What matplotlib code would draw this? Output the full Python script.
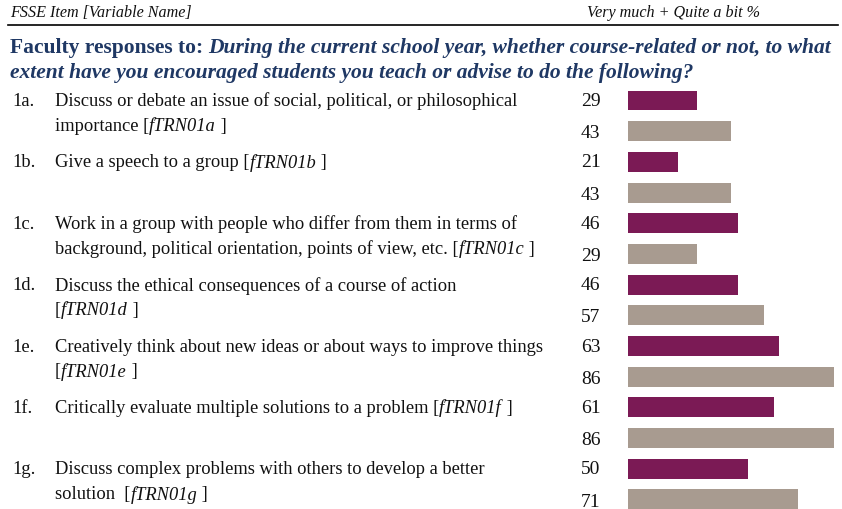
import matplotlib
matplotlib.use("Agg")
import matplotlib.pyplot as plt
from matplotlib.transforms import blended_transform_factory, offset_copy

plt.rcParams['font.family'] = ['Liberation Serif', 'DejaVu Serif']

item_codes = ["1a.", "1b.", "1c.", "1d.", "1e.", "1f.", "1g."]
# each line: list of (text, italic)
item_lines = [
    [[("Discuss or debate an issue of social, political, or philosophical", False)],
     [("importance [", False), ("fTRN01a", True), (" ]", False)]],
    [[("Give a speech to a group [", False), ("fTRN01b", True), (" ]", False)]],
    [[("Work in a group with people who differ from them in terms of", False)],
     [("background, political orientation, points of view, etc. [", False), ("fTRN01c", True), (" ]", False)]],
    [[("Discuss the ethical consequences of a course of action", False)],
     [("[", False), ("fTRN01d", True), (" ]", False)]],
    [[("Creatively think about new ideas or about ways to improve things", False)],
     [("[", False), ("fTRN01e", True), (" ]", False)]],
    [[("Critically evaluate multiple solutions to a problem [", False), ("fTRN01f", True), (" ]", False)]],
    [[("Discuss complex problems with others to develop a better", False)],
     [("solution  [", False), ("fTRN01g", True), (" ]", False)]],
]
series1 = [29, 21, 46, 46, 63, 61, 50]
series2 = [43, 43, 29, 57, 86, 86, 71]

c1 = "#7B1A55"
c2 = "#A89B90"
navy = "#1F3864"
txtc = "#111111"

W, H = 842, 510
fig = plt.figure(figsize=(W/100, H/100), dpi=100)
renderer = fig.canvas.get_renderer()

row_px = 30.69
top_px = 101.5 - row_px/2
n_rows = 14
bot_px = top_px + n_rows*row_px
left_px = 628
width_px = 239
ax = fig.add_axes([left_px/W, (H-bot_px)/H, width_px/W, (bot_px-top_px)/H])
ax.set_xlim(0, 100)
ax.set_ylim(n_rows-0.5, -0.5)
ax.axis('off')

trans = blended_transform_factory(fig.transFigure, ax.transData)


def draw_segments(x, y, segments, transform, **kw):
    dx = 0.0
    for txt, it in segments:
        t = fig.text(x, y, txt, transform=offset_copy(transform, fig=fig, x=dx * 72 / fig.dpi, y=0, units='points'),
                     ha='left', style='italic' if it else 'normal', **kw)
        bb = t.get_window_extent(renderer=renderer)
        dx += bb.width


fs = 13.3
fsn = 14
for i in range(len(item_codes)):
    y1 = 2*i
    y2 = 2*i + 1
    ax.barh(y1, series1[i], height=0.65, color=c1, left=0)
    ax.barh(y2, series2[i], height=0.65, color=c2, left=0)
    ax.text(581/W, y1, str(series1[i]), transform=trans, ha='left', va='center', fontsize=fsn, color=txtc)
    ax.text(581/W, y2 + 0.05, str(series2[i]), transform=trans, ha='left', va='center', fontsize=fsn, color=txtc)
    ax.text(12/W, y1, item_codes[i], transform=trans, ha='left', va='center', fontsize=fs, color=txtc)
    for j, line in enumerate(item_lines[i]):
        draw_segments(55/W, y1 + j*0.81, line, trans, va='center', fontsize=fs, color=txtc)

# header
fig.text(10/W, 1-13/H, "FSSE Item [Variable Name]", ha='left', va='center', fontsize=11.6, style='italic', color=txtc)
fig.text(587/W, 1-13/H, "Very much + Quite a bit %", ha='left', va='center', fontsize=11.6, style='italic', color=txtc)
fig.add_artist(plt.Line2D([8/W, 838/W], [1-26/H, 1-26/H], color='black', linewidth=1.2))

# title
draw_segments(10/W, 1-48/H, [("Faculty responses to: ", False),
                             ("During the current school year, whether course-related or not, to what", True)],
              fig.transFigure, va='center', fontsize=15.5, fontweight='bold', color=navy)
fig.text(10/W, 1-73/H, "extent have you encouraged students you teach or advise to do the following?",
         ha='left', va='center', fontsize=15.5, fontweight='bold', style='italic', color=navy)

fig.savefig("out.png", dpi=100)
